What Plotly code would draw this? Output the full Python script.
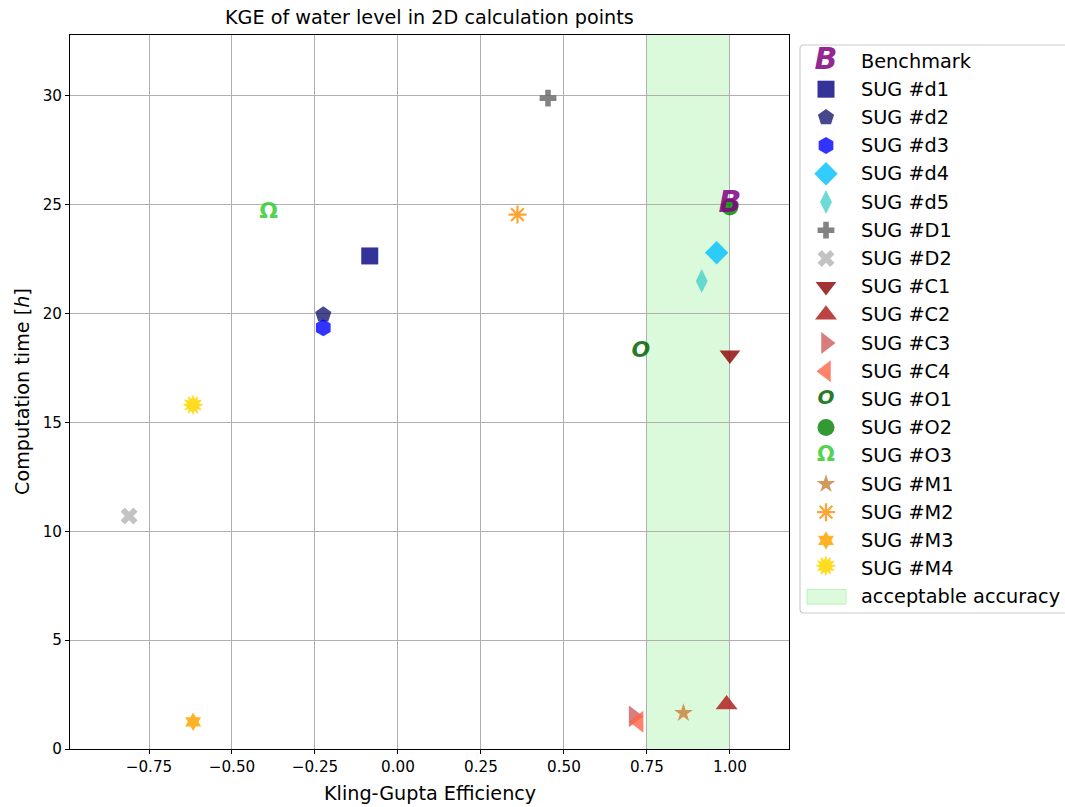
import plotly.graph_objects as go

# ---------------- data ----------------
SERIES = ["Benchmark", "SUG #d1", "SUG #d2", "SUG #d3", "SUG #d4", "SUG #d5",
          "SUG #D1", "SUG #D2", "SUG #C1", "SUG #C2", "SUG #C3", "SUG #C4",
          "SUG #O1", "SUG #O2", "SUG #O3", "SUG #M1", "SUG #M2", "SUG #M3", "SUG #M4"]
KGE = [1.00, -0.085, -0.225, -0.225, 0.96, 0.915,
       0.452, -0.81, 1.00, 0.99, 0.71, 0.725,
       0.732, 1.00, -0.39, 0.86, 0.36, -0.617, -0.617]
TIME_H = [25.0, 22.65, 19.95, 19.35, 22.8, 21.5,
          29.9, 10.7, 18.1, 2.05, 1.5, 1.25,
          18.25, 24.9, 24.65, 1.65, 24.55, 1.25, 15.65]
ACCEPT_RANGE = [0.75, 1.00]
ACCEPT_LABEL = "acceptable accuracy"
X_TICKS = [-0.75, -0.50, -0.25, 0.00, 0.25, 0.50, 0.75, 1.00]
Y_TICKS = [0, 5, 10, 15, 20, 25, 30]
TITLE = "KGE of water level in 2D calculation points"
X_LABEL = "Kling-Gupta Efficiency"
Y_LABEL = "Computation time [<i>h</i>]"

# ---------------- styles ----------------
FONT = "DejaVu Sans"
STYLE = {
    "Benchmark": dict(glyph="<b><i>B</i></b>", color="rgba(128,0,128,0.85)", size=30, lsize=30),
    "SUG #d1": dict(symbol="square", color="rgba(0,0,128,0.8)", size=17),
    "SUG #d2": dict(symbol="pentagon", color="rgba(25,25,112,0.8)", size=17),
    "SUG #d3": dict(symbol="hexagon", color="rgba(0,0,255,0.8)", size=17),
    "SUG #d4": dict(symbol="diamond", color="rgba(0,191,255,0.8)", size=18),
    "SUG #d5": dict(symbol="diamond-tall", color="rgba(72,209,204,0.8)", size=17),
    "SUG #D1": dict(symbol="cross", color="rgba(100,100,100,0.8)", size=14),
    "SUG #D2": dict(symbol="x", color="rgba(180,180,180,0.8)", size=15),
    "SUG #C1": dict(symbol="triangle-down", color="rgba(139,0,0,0.8)", size=18),
    "SUG #C2": dict(symbol="triangle-up", color="rgba(178,34,34,0.85)", size=19),
    "SUG #C3": dict(symbol="triangle-right", color="rgba(205,92,92,0.8)", size=19),
    "SUG #C4": dict(symbol="triangle-left", color="rgba(255,99,71,0.8)", size=19),
    "SUG #O1": dict(glyph="<b><i>O</i></b>", color="rgba(0,100,0,0.85)", size=22, lsize=20),
    "SUG #O2": dict(symbol="circle", color="rgba(0,128,0,0.8)", size=17),
    "SUG #O3": dict(glyph="<b>Ω</b>", color="rgba(50,205,50,0.85)", size=22, lsize=21),
    "SUG #M1": dict(symbol="star", color="rgba(205,133,63,0.85)", size=14),
    "SUG #M2": dict(symbol="asterisk-open", color="rgba(255,140,0,0.8)", size=15, lw=2.2),
    "SUG #M3": dict(symbol="hexagram", color="rgba(255,165,0,0.85)", size=14),
    "SUG #M4": dict(glyph="✹", color="rgba(255,215,0,0.9)", size=28, lsize=28),
}

W, H = 1065, 807
PL, PR, PT, PB = 70, 789, 35, 749  # plot area in px
LABEL_SIZE = 19.2
LEGEND_SIZE = 19.3


def px(x):
    return x / W


def py(y):
    return 1 - y / H


def add_point(fig, name, x, y, xa, ya, legend=False):
    st = STYLE[name]
    if "glyph" in st:
        fig.add_trace(go.Scatter(
            x=[x], y=[y], mode="text", text=[st["glyph"]],
            textposition="middle center",
            textfont=dict(family=FONT, size=st["lsize"] if legend else st["size"], color=st["color"]),
            xaxis=xa, yaxis=ya, hoverinfo="skip", name=name))
    else:
        open_sym = st["symbol"].endswith("-open")
        fig.add_trace(go.Scatter(
            x=[x], y=[y], mode="markers", name=name,
            marker=dict(symbol=st["symbol"], size=st["size"], color=st["color"],
                        line=dict(width=st.get("lw", 0), color=st["color"]) if open_sym
                        else dict(width=0)),
            xaxis=xa, yaxis=ya, hoverinfo="skip"))


fig = go.Figure()

# draw order: O2 first so Benchmark glyph sits on top
order = [SERIES.index("SUG #O2")] + [i for i in range(len(SERIES)) if SERIES[i] not in ("SUG #O2", "Benchmark")] + [SERIES.index("Benchmark")]
for i in order:
    add_point(fig, SERIES[i], KGE[i], TIME_H[i], "x", "y")

# ---- custom legend on an auxiliary axis ----
n_rows = len(SERIES) + 1
row_top, row_step = 61, 28.2
dom_top = row_top - row_step / 2
dom_bot = dom_top + row_step * n_rows
LEG_X0 = 800
LEG_MARK = (826 - LEG_X0) / (W - LEG_X0)
LEG_TEXT = (859 - LEG_X0) / (W - LEG_X0)
for i, name in enumerate(SERIES):
    add_point(fig, name, LEG_MARK, i, "x2", "y2", legend=True)
    fig.add_annotation(x=LEG_TEXT, y=i, xref="x2", yref="y2", text=name, showarrow=False,
                       xanchor="left", yanchor="middle", font=dict(family=FONT, size=LEGEND_SIZE, color="black"))
fig.add_annotation(x=LEG_TEXT, y=n_rows - 1, xref="x2", yref="y2", text=ACCEPT_LABEL, showarrow=False,
                   xanchor="left", yanchor="middle", font=dict(family=FONT, size=LEGEND_SIZE, color="black"))
fig.add_shape(type="rect", xref="x2", yref="y2",
              x0=(807 - LEG_X0) / (W - LEG_X0), x1=(846 - LEG_X0) / (W - LEG_X0),
              y0=n_rows - 1 - 0.26, y1=n_rows - 1 + 0.26,
              fillcolor="rgba(144,238,144,0.3)", line=dict(color="rgba(144,238,144,0.55)", width=1))

# legend frame (rounded left corners; right side runs off the canvas)
bx0, bx1, by0, by1 = px(LEG_X0), 1.01, py(613), py(45)
rx, ry = 4 / W, 4 / H
path = (f"M {bx1},{by1} L {bx0 + rx},{by1} Q {bx0},{by1} {bx0},{by1 - ry} "
        f"L {bx0},{by0 + ry} Q {bx0},{by0} {bx0 + rx},{by0} L {bx1},{by0}")
fig.add_shape(type="path", path=path, xref="paper", yref="paper",
              line=dict(color="#cccccc", width=1.2), fillcolor="rgba(0,0,0,0)", layer="below")

# acceptable accuracy band
fig.add_shape(type="rect", xref="x", yref="y domain", x0=ACCEPT_RANGE[0], x1=ACCEPT_RANGE[1],
              y0=0, y1=1, fillcolor="rgba(144,238,144,0.32)", line=dict(width=0), layer="below")

axis_common = dict(showgrid=True, gridcolor="#b0b0b0", gridwidth=1, zeroline=False,
                   showline=True, linecolor="black", linewidth=1, mirror=True,
                   ticks="outside", ticklen=4, tickcolor="black",
                   tickfont=dict(family=FONT, size=15.2, color="black"))

fig.update_layout(
    width=W, height=H, autosize=False,
    margin=dict(l=0, r=0, t=0, b=0),
    plot_bgcolor="white", paper_bgcolor="white",
    showlegend=False,
    xaxis=dict(domain=[px(PL), px(PR)], range=[-0.988, 1.178], tickvals=X_TICKS,
               tickformat=".2f", automargin=False, **axis_common),
    yaxis=dict(domain=[py(PB), py(PT)], range=[0, 32.8], tickvals=Y_TICKS,
               automargin=False, **axis_common),
    xaxis2=dict(domain=[px(LEG_X0), 1], range=[0, 1], visible=False, fixedrange=True, anchor="y2"),
    yaxis2=dict(domain=[py(dom_bot), py(dom_top)], range=[n_rows - 0.5, -0.5], visible=False,
                fixedrange=True, anchor="x2"),
)

fig.add_annotation(x=px((PL + PR) / 2), y=py(18), xref="paper", yref="paper", text=TITLE,
                   showarrow=False, xanchor="center", yanchor="middle",
                   font=dict(family=FONT, size=LABEL_SIZE, color="black"))
fig.add_annotation(x=px((PL + PR) / 2), y=py(793), xref="paper", yref="paper", text=X_LABEL,
                   showarrow=False, xanchor="center", yanchor="middle",
                   font=dict(family=FONT, size=LABEL_SIZE, color="black"))
fig.add_annotation(x=px(22), y=py((PT + PB) / 2), xref="paper", yref="paper", text=Y_LABEL,
                   showarrow=False, xanchor="center", yanchor="middle", textangle=-90,
                   font=dict(family=FONT, size=LABEL_SIZE, color="black"))

fig.write_html("out.html")
